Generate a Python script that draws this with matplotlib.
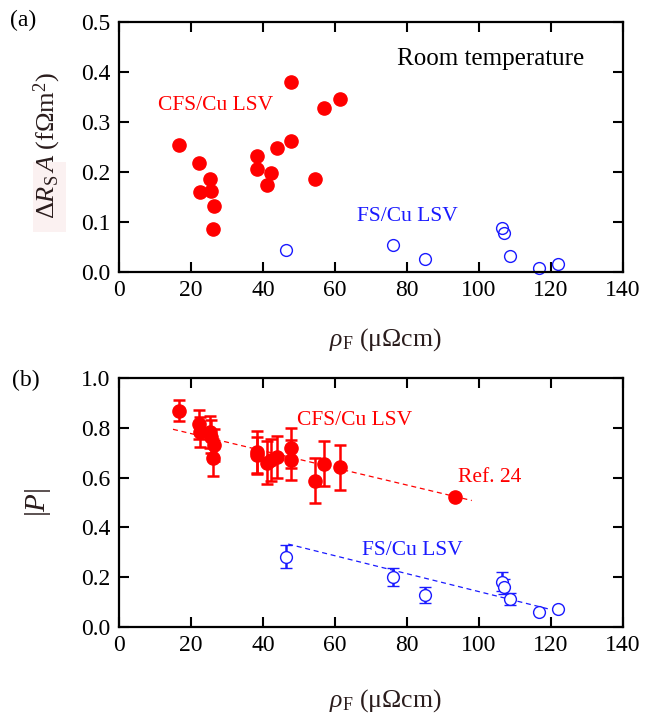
import matplotlib
matplotlib.use("Agg")
import matplotlib.pyplot as plt
from matplotlib.patches import Rectangle

# ---------------- data ----------------
cfs_rho = [16.8, 22.2, 22.4, 25.4, 25.5, 26.3, 26.2, 38.4, 38.4, 41.0, 42.2,
           43.8, 47.8, 47.8, 54.5, 57.0, 61.4]
cfs_dRA = [0.254, 0.219, 0.160, 0.186, 0.163, 0.132, 0.087, 0.232, 0.207,
           0.174, 0.199, 0.249, 0.262, 0.380, 0.186, 0.329, 0.347]
cfs_P = [0.868, 0.814, 0.784, 0.784, 0.764, 0.731, 0.680, 0.704, 0.690,
         0.660, 0.671, 0.684, 0.718, 0.671, 0.588, 0.655, 0.641]
cfs_P_err = [0.042, 0.057, 0.060, 0.065, 0.067, 0.065, 0.075, 0.085, 0.075,
             0.085, 0.085, 0.085, 0.080, 0.080, 0.090, 0.090, 0.090]

fs_rho = [46.3, 76.2, 84.9, 106.4, 106.9, 108.7, 116.7, 122.0]
fs_dRA = [0.044, 0.055, 0.027, 0.089, 0.078, 0.032, 0.009, 0.017]
fs_P = [0.282, 0.200, 0.129, 0.182, 0.162, 0.111, 0.062, 0.071]
fs_P_err = [0.047, 0.036, 0.033, 0.038, 0.030, 0.024, 0.0, 0.0]

ref24_rho = [93.2]
ref24_P = [0.521]

cfs_fit_x = [15.0, 98.0]
cfs_fit_y = [0.794, 0.508]
fs_fit_x = [47.0, 120.0]
fs_fit_y = [0.333, 0.070]

xticks = [0, 20, 40, 60, 80, 100, 120, 140]
yticks_a = [0.0, 0.1, 0.2, 0.3, 0.4, 0.5]
yticks_b = [0.0, 0.2, 0.4, 0.6, 0.8, 1.0]

# ---------------- style ----------------
plt.rcParams['font.family'] = ['Liberation Serif', 'DejaVu Serif']
plt.rcParams['mathtext.fontset'] = 'custom'
plt.rcParams['mathtext.rm'] = 'Liberation Serif'
plt.rcParams['mathtext.it'] = 'Liberation Serif:italic'
plt.rcParams['mathtext.bf'] = 'Liberation Serif:bold'

RED = '#ff0000'
BLUE = '#1a1aff'
LABC = '#2a1c1c'

fig = plt.figure(figsize=(6.55, 7.13), dpi=100)
W, H = 655, 713
axA = fig.add_axes([119 / W, 1 - 272 / H, 504 / W, 250 / H])
axB = fig.add_axes([119 / W, 1 - 627 / H, 504 / W, 249 / H])

# faint pink highlight behind the (a) y-label
fig.patches.append(Rectangle((33 / W, 1 - 232 / H), 33 / W, 70 / H,
                             transform=fig.transFigure, facecolor='#fbf1f1',
                             edgecolor='none', zorder=-10))


def style(ax, yticks, ylim):
    ax.set_xlim(0, 140)
    ax.set_ylim(*ylim)
    ax.set_xticks(xticks)
    ax.set_yticks(yticks)
    ax.tick_params(direction='in', length=7, width=1.5, top=True, right=True,
                   labelsize=17, pad=6)
    for s in ax.spines.values():
        s.set_linewidth(1.6)
    ax.patch.set_alpha(0)


XLABEL = r'$\rho_{\rm F}$ (μΩcm)'
TXT = 15.5

# ---------------- panel (a) ----------------
style(axA, yticks_a, (0, 0.5))
axA.set_yticklabels([f'{v:.1f}' for v in yticks_a])
axA.plot(cfs_rho, cfs_dRA, 'o', color=RED, ms=9.5, mec=RED, clip_on=False)
axA.plot(fs_rho, fs_dRA, 'o', mfc='none', mec=BLUE, mew=1.0, ms=8.5,
         clip_on=False)
axA.text(10.8, 0.334, 'CFS/Cu LSV', color=RED, fontsize=TXT, va='center')
axA.text(66.1, 0.111, 'FS/Cu LSV', color=BLUE, fontsize=TXT, va='center')
axA.text(77.2, 0.426, 'Room temperature', color='black', fontsize=18,
         va='center')
axA.set_xlabel(XLABEL, fontsize=18.5, color=LABC, va='center')
axA.xaxis.set_label_coords(0.528, -0.272)
axA.set_ylabel(r'$\Delta R_{\rm S}\,A$ (fΩm$^2$)', fontsize=19,
               color=LABC, va='center')
axA.yaxis.set_label_coords(-0.143, 0.505)
fig.text(10 / W, 1 - 20 / H, '(a)', fontsize=17, va='center', ha='left')

# ---------------- panel (b) ----------------
style(axB, yticks_b, (0, 1.0))
axB.set_yticklabels([f'{v:.1f}' for v in yticks_b])
axB.plot(cfs_fit_x, cfs_fit_y, color=RED, lw=0.9, dashes=(4, 3))
axB.plot(fs_fit_x, fs_fit_y, color=BLUE, lw=0.9, dashes=(4, 3))
axB.errorbar(cfs_rho, cfs_P, yerr=cfs_P_err, fmt='o', color=RED, ms=9.5,
             elinewidth=1.8, capsize=4, capthick=1.8)
axB.plot(ref24_rho, ref24_P, 'o', color=RED, ms=9.5)
axB.errorbar(fs_rho, fs_P, yerr=fs_P_err, fmt='o', mfc='white', mec=BLUE,
             ecolor=BLUE, mew=1.0, ms=8.5, elinewidth=1.8, capsize=4,
             capthick=2.0)
axB.text(49.5, 0.831, 'CFS/Cu LSV', color=RED, fontsize=TXT, va='center')
axB.text(94.2, 0.602, 'Ref. 24', color=RED, fontsize=TXT, va='center')
axB.text(67.4, 0.309, 'FS/Cu LSV', color=BLUE, fontsize=TXT, va='center')
axB.set_xlabel(XLABEL, fontsize=18.5, color=LABC, va='center')
axB.xaxis.set_label_coords(0.528, -0.295)
axB.set_ylabel(r'$|P|$', fontsize=21, color=LABC, va='center')
axB.yaxis.set_label_coords(-0.161, 0.5)
fig.text(12 / W, 1 - 380 / H, '(b)', fontsize=17, va='center', ha='left')

fig.savefig('out.png', dpi=100)
